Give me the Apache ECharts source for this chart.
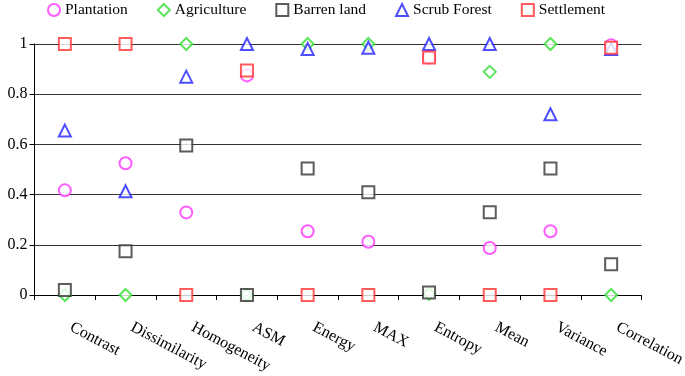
<!DOCTYPE html>
<html>
<head>
<meta charset="utf-8">
<script src="https://cdn.jsdelivr.net/npm/echarts@6/dist/echarts.min.js"></script>
<style>
  html, body { margin: 0; padding: 0; background: #fff; }
  #main { width: 685px; height: 376px; }
</style>
</head>
<body>
<div id="main"></div>
<script>
var categories = ['Contrast', 'Dissimilarity', 'Homogeneity', 'ASM', 'Energy', 'MAX', 'Entropy', 'Mean', 'Variance', 'Correlation'];
var plantation = [0.417, 0.525, 0.329, 0.875, 0.254, 0.212, 0.946, 0.187, 0.254, 0.995];
var agriculture = [0, 0, 1, 0, 1, 1, 0.005, 0.889, 1, 0];
var barrenLand = [0.02, 0.174, 0.596, 0, 0.504, 0.409, 0.01, 0.33, 0.504, 0.123];
var scrubForest = [0.655, 0.413, 0.87, 1, 0.98, 0.985, 1, 1, 0.72, 0.98];
var settlement = [1, 1, 0, 0.894, 0, 0, 0.946, 0, 0, 0.985];

var font = 'Liberation Serif';

function mkSeries(name, data, symbol, color) {
    return {
        name: name,
        type: 'scatter',
        data: data,
        symbol: symbol,
        symbolSize: 12,
        itemStyle: { color: color, borderColor: color, borderWidth: 1.2 }
    };
}

var myChart = echarts.init(document.getElementById('main'));
var option = {
    animation: false,
    backgroundColor: '#fff',
    legend: {
        left: 47,
        top: 2,
        padding: 0,
        itemWidth: 12,
        itemHeight: 12,
        itemGap: 29,
        textStyle: { fontFamily: font, fontSize: 15.5, color: '#000' }
    },
    grid: { left: 34.5, right: 43.5, top: 44, bottom: 81, outerBoundsMode: 'none' },
    xAxis: {
        type: 'category',
        data: categories,
        boundaryGap: true,
        axisLine: { lineStyle: { color: '#000', width: 1 } },
        axisTick: { show: true, length: 5, lineStyle: { color: '#000' } },
        axisLabel: {
            interval: 0,
            rotate: -28,
            margin: 28,
            padding: [0, 0, 0, 7],
            fontFamily: font,
            fontSize: 16,
            color: '#000'
        }
    },
    yAxis: {
        type: 'value',
        min: 0,
        max: 1,
        interval: 0.2,
        axisLine: { show: true, lineStyle: { color: '#000', width: 1 } },
        axisTick: { show: true, length: 5, lineStyle: { color: '#000' } },
        splitLine: { lineStyle: { color: '#333', width: 1 } },
        axisLabel: { margin: 7, fontFamily: font, fontSize: 16, color: '#000' }
    },
    series: [
        mkSeries('Plantation', plantation, 'emptyCircle', '#ff33ff'),
        mkSeries('Agriculture', agriculture, 'emptyDiamond', '#33dd33'),
        mkSeries('Barren land', barrenLand, 'emptyRect', '#333333'),
        mkSeries('Scrub Forest', scrubForest, 'emptyTriangle', '#2222ff'),
        mkSeries('Settlement', settlement, 'emptyRect', '#ff3333')
    ]
};

myChart.setOption(option);
</script>
</body>
</html>
